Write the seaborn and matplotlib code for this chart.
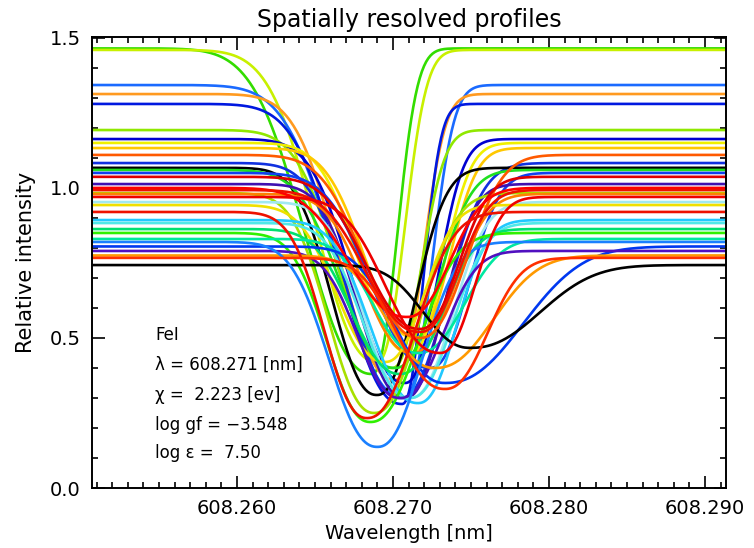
import numpy as np
import pandas as pd
import matplotlib
matplotlib.use("Agg")
import matplotlib.pyplot as plt
import seaborn as sns
from matplotlib.ticker import MultipleLocator, FixedLocator

# ---- data (one entry per spatial profile) ----
# continuum level, core intensity, line-core wavelength [nm],
# blue-wing and red-wing width [nm], colour
continuum = [1.465, 1.460, 1.343, 1.313, 1.280, 1.193, 1.163, 1.150, 1.133,
             1.110, 1.083, 1.067, 1.060, 1.050, 1.037, 1.013, 1.000, 0.993,
             0.983, 0.980, 0.970, 0.953, 0.943, 0.920, 0.893, 0.883, 0.863,
             0.850, 0.830, 0.805, 0.790, 0.775, 0.767, 0.743, 0.820]
core = [0.38, 0.42, 0.30, 0.36, 0.28, 0.40, 0.35, 0.45, 0.50,
        0.50, 0.30, 0.31, 0.40, 0.40, 0.53, 0.30, 0.57, 0.52,
        0.25, 0.45, 0.45, 0.30, 0.42, 0.233, 0.283, 0.30, 0.38,
        0.22, 0.45, 0.35, 0.30, 0.40, 0.33, 0.467, 0.137]
center = [608.26865, 608.26897, 608.27071, 608.27013, 608.27058, 608.26994,
          608.27077, 608.27109, 608.27141, 608.27173, 608.27045, 608.26897,
          608.27013, 608.27237, 608.27173, 608.27077, 608.27090, 608.27173,
          608.26880, 608.27122, 608.27301, 608.27109, 608.26949, 608.26833,
          608.27160, 608.27109, 608.27045, 608.26855, 608.27160, 608.27333,
          608.27045, 608.27269, 608.27333, 608.27494, 608.26900]
width_blue = [0.00550, 0.00500, 0.00550, 0.00462, 0.00500, 0.00449, 0.00436,
              0.00417, 0.00417, 0.00462, 0.00417, 0.00372, 0.00449, 0.00481,
              0.00449, 0.00385, 0.00481, 0.00449, 0.00380, 0.00397, 0.00449,
              0.00385, 0.00397, 0.00353, 0.00397, 0.00385, 0.00397, 0.00360,
              0.00372, 0.00417, 0.00353, 0.00397, 0.00397, 0.00385, 0.00400]
width_red = [0.00210, 0.00230, 0.00230, 0.00231, 0.00179, 0.00244, 0.00269,
             0.00282, 0.00288, 0.00385, 0.00385, 0.00321, 0.00353, 0.00321,
             0.00321, 0.00321, 0.00353, 0.00321, 0.00380, 0.00353, 0.00288,
             0.00353, 0.00321, 0.00400, 0.00321, 0.00353, 0.00353, 0.00400,
             0.00385, 0.00641, 0.00353, 0.00481, 0.00353, 0.00577, 0.00370]
colors = ["#33dd00", "#c8f000", "#1a6aff", "#ff9a20", "#0018e0", "#90e800",
          "#0000d0", "#f0f000", "#ffc800", "#ff5a00", "#1030e0", "#000000",
          "#20e020", "#1040f0", "#e00000", "#4010b0", "#ff0000", "#f01000",
          "#a8e000", "#ff8000", "#ee0000", "#a0e8f0", "#f0e000", "#ee1100",
          "#20c8ff", "#50e8e8", "#00e070", "#30f000", "#00e8a0", "#0038f0",
          "#5010c0", "#ff9900", "#ff3000", "#000000", "#1a80ff"]

x_ticks = [608.260, 608.270, 608.280, 608.290]
x_tick_labels = ["608.260", "608.270", "608.280", "608.290"]
y_ticks = [0.0, 0.5, 1.0, 1.5]
y_tick_labels = ["0.0", "0.5", "1.0", "1.5"]
line_info = ["FeI", "λ = 608.271 [nm]", "χ =  2.223 [ev]",
             "log gf = −3.548", "log ε =  7.50"]

# ---- build profiles (line shape model with the read parameters) ----
wl = np.linspace(608.2505, 608.2915, 600)
shape_p = 2.3
rows = []
for i in range(len(continuum)):
    d = wl - center[i]
    w = np.where(d < 0, width_blue[i], width_red[i])
    prof = continuum[i] - (continuum[i] - core[i]) * np.exp(-np.abs(d / w) ** shape_p)
    rows.append(pd.DataFrame({"wl": wl, "I": prof, "pid": f"p{i:02d}"}))
df = pd.concat(rows, ignore_index=True)

reds = {"#e00000", "#ff0000", "#f01000", "#ee0000", "#ee1100", "#ff3000", "#ff5a00"}
order = [f"p{i:02d}" for i in range(len(colors)) if colors[i] not in reds] + \
        [f"p{i:02d}" for i in range(len(colors)) if colors[i] in reds]
palette = {f"p{i:02d}": colors[i] for i in range(len(colors))}

sns.set_style("ticks")
plt.rcParams["font.family"] = ["DejaVu Sans"]
plt.rcParams["text.color"] = "black"
plt.rcParams["axes.labelcolor"] = "black"
plt.rcParams["xtick.color"] = "black"
plt.rcParams["ytick.color"] = "black"
fig = plt.figure(figsize=(7.54, 5.48), dpi=100)
ax = fig.add_axes([92 / 754, 60 / 548, 634 / 754, 451 / 548])

sns.lineplot(data=df, x="wl", y="I", hue="pid", hue_order=order, palette=palette,
             legend=False, sort=False, estimator=None, lw=1.9, ax=ax)

ax.set_xlim(608.25071, 608.29135)
ax.set_ylim(0.0, 1.503)
ax.xaxis.set_major_locator(FixedLocator(x_ticks))
ax.set_xticklabels(x_tick_labels)
ax.xaxis.set_minor_locator(MultipleLocator(0.001))
ax.yaxis.set_major_locator(FixedLocator(y_ticks))
ax.set_yticklabels(y_tick_labels)
ax.yaxis.set_minor_locator(MultipleLocator(0.1))
ax.tick_params(which="both", direction="in", top=True, right=True, colors="black",
               width=1.2, labelsize=14, pad=8)
ax.tick_params(which="major", length=9)
ax.tick_params(which="minor", length=4.5)
for s in ax.spines.values():
    s.set_linewidth(1.4)
    s.set_color("black")

ax.set_title("Spatially resolved profiles", fontsize=17, pad=7, color="black")
ax.set_xlabel("Wavelength [nm]", fontsize=14, labelpad=4)
ax.set_ylabel("Relative intensity", fontsize=15, labelpad=10)

ys = [335, 365, 395, 425, 453]
for txt, ypx in zip(line_info, ys):
    ax.text((155 - 92) / 634, (488 - ypx) / 451, txt, transform=ax.transAxes,
            fontsize=12, ha="left", va="center", color="black")

fig.savefig("out.png", dpi=100)
